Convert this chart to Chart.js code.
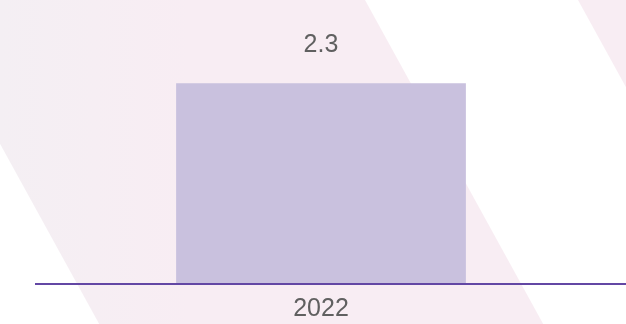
<!DOCTYPE html>
<html>
<head>
<meta charset="utf-8">
<script src="https://cdn.jsdelivr.net/npm/chart.js@4.4.1/dist/chart.umd.min.js"></script>
<style>
  html, body { margin: 0; padding: 0; background: #ffffff; }
  #wrap { width: 626px; height: 324px; position: relative; }
</style>
</head>
<body>
<div id="wrap"><canvas id="chart"></canvas></div>
<script>
// Chart data
const categories = ["2022"];
const values = [2.3];
const valueLabels = ["2.3"];

const TEXT_FONT = '25px "Liberation Sans", Arial, sans-serif';
const TEXT_COLOR = '#606060';

// Soft diagonal bands behind the plot
const backdrop = {
  id: 'backdrop',
  beforeDraw(chart) {
    const ctx = chart.ctx;
    const W = chart.width, H = chart.height;
    const k = 0.55;
    const grad = ctx.createLinearGradient(0, 0, W, 0);
    grad.addColorStop(0, '#f4eff3');
    grad.addColorStop(0.3, '#f8edf3');
    grad.addColorStop(1, '#f8edf3');
    ctx.save();
    ctx.fillStyle = '#ffffff';
    ctx.fillRect(0, 0, W, H);
    ctx.fillStyle = grad;
    const band = (x0, w) => {
      ctx.beginPath();
      ctx.moveTo(x0, 0);
      ctx.lineTo(x0 + w, 0);
      ctx.lineTo(x0 + w + k * H, H);
      ctx.lineTo(x0 + k * H, H);
      ctx.closePath();
      ctx.fill();
    };
    band(-79, 444);
    band(578, 444);
    ctx.restore();
  }
};

// Baseline, value labels and category labels
const annotations = {
  id: 'annotations',
  afterDatasetsDraw(chart) {
    const ctx = chart.ctx;
    const xs = chart.scales.x, ys = chart.scales.y;
    const y0 = ys.getPixelForValue(0);
    ctx.save();
    ctx.strokeStyle = '#6347a4';
    ctx.lineWidth = 2;
    ctx.beginPath();
    ctx.moveTo(35, y0);
    ctx.lineTo(chart.width, y0);
    ctx.stroke();

    ctx.font = TEXT_FONT;
    ctx.fillStyle = TEXT_COLOR;
    ctx.textAlign = 'center';
    ctx.textBaseline = 'middle';
    const meta = chart.getDatasetMeta(0);
    meta.data.forEach((bar, i) => {
      ctx.fillText(valueLabels[i], bar.x, bar.y - 38);
      ctx.fillText(categories[i], xs.getPixelForValue(i), y0 + 25);
    });
    ctx.restore();
  }
};

new Chart(document.getElementById('chart'), {
  type: 'bar',
  data: {
    labels: categories,
    datasets: [{
      data: values,
      backgroundColor: '#c9c1de',
      borderWidth: 0,
      barPercentage: 0.475,
      categoryPercentage: 1
    }]
  },
  options: {
    responsive: true,
    maintainAspectRatio: false,
    animation: false,
    events: [],
    layout: { padding: { top: 22, bottom: 40, left: 16, right: 0 } },
    plugins: { legend: { display: false }, tooltip: { enabled: false } },
    scales: {
      x: { display: false },
      y: { display: false, min: 0, max: 3 }
    }
  },
  plugins: [backdrop, annotations]
});
</script>
</body>
</html>
